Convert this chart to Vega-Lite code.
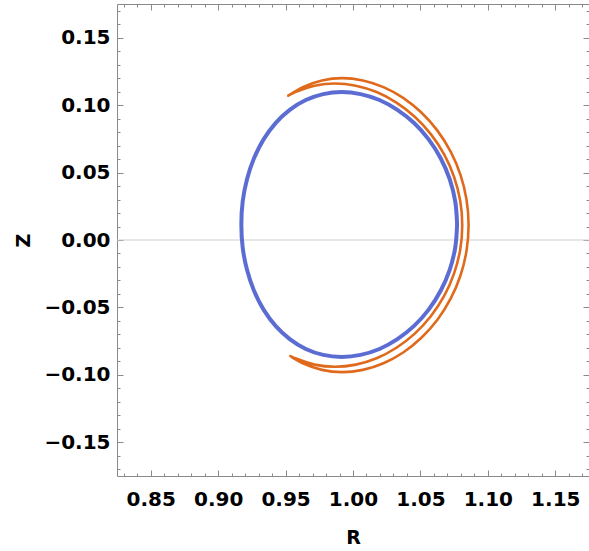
{
  "$schema": "https://vega.github.io/schema/vega-lite/v6.json",
  "width": 472,
  "height": 472,
  "autosize": {"type": "none"},
  "padding": {"left": 117, "top": 4, "right": 0, "bottom": 75},
  "background": "white",
  "config": {
    "view": {"stroke": "#8a8a8a", "strokeWidth": 1},
    "axis": {
      "labelFont": "DejaVu Sans",
      "labelFontWeight": "bold",
      "labelFontSize": 20,
      "labelColor": "black",
      "titleFont": "DejaVu Sans",
      "titleFontWeight": "bold",
      "titleFontSize": 19,
      "titleColor": "black",
      "domain": false,
      "grid": false,
      "tickColor": "#8a8a8a",
      "tickWidth": 1
    }
  },
  "datasets": {
    "zero": [{"R": 0.825, "Z": 0}, {"R": 1.175, "Z": 0}],
    "blue": [
      {"o": 0, "R": 1.0772, "Z": 0.0115}, {"o": 1, "R": 1.0758, "Z": 0.0286}, {"o": 2, "R": 1.0717, "Z": 0.0451},
      {"o": 3, "R": 1.0650, "Z": 0.0606}, {"o": 4, "R": 1.0561, "Z": 0.0746}, {"o": 5, "R": 1.0453, "Z": 0.0867},
      {"o": 6, "R": 1.0329, "Z": 0.0965}, {"o": 7, "R": 1.0196, "Z": 0.1038}, {"o": 8, "R": 1.0056, "Z": 0.1082},
      {"o": 9, "R": 0.9916, "Z": 0.1097}, {"o": 10, "R": 0.9779, "Z": 0.1082}, {"o": 11, "R": 0.9650, "Z": 0.1038},
      {"o": 12, "R": 0.9531, "Z": 0.0965}, {"o": 13, "R": 0.9426, "Z": 0.0867}, {"o": 14, "R": 0.9337, "Z": 0.0746},
      {"o": 15, "R": 0.9266, "Z": 0.0606}, {"o": 16, "R": 0.9214, "Z": 0.0451}, {"o": 17, "R": 0.9182, "Z": 0.0286},
      {"o": 18, "R": 0.9172, "Z": 0.0115}, {"o": 19, "R": 0.9182, "Z": -0.0056}, {"o": 20, "R": 0.9214, "Z": -0.0221},
      {"o": 21, "R": 0.9266, "Z": -0.0376}, {"o": 22, "R": 0.9337, "Z": -0.0516}, {"o": 23, "R": 0.9426, "Z": -0.0637},
      {"o": 24, "R": 0.9531, "Z": -0.0735}, {"o": 25, "R": 0.9650, "Z": -0.0808}, {"o": 26, "R": 0.9779, "Z": -0.0852},
      {"o": 27, "R": 0.9916, "Z": -0.0867}, {"o": 28, "R": 1.0056, "Z": -0.0852}, {"o": 29, "R": 1.0196, "Z": -0.0808},
      {"o": 30, "R": 1.0329, "Z": -0.0735}, {"o": 31, "R": 1.0453, "Z": -0.0637}, {"o": 32, "R": 1.0561, "Z": -0.0516},
      {"o": 33, "R": 1.0650, "Z": -0.0376}, {"o": 34, "R": 1.0717, "Z": -0.0221}, {"o": 35, "R": 1.0758, "Z": -0.0056},
      {"o": 36, "R": 1.0772, "Z": 0.0115}
    ],
    "orange": [
      {"o": 0, "R": 0.9520, "Z": 0.1070}, {"o": 1, "R": 0.9628, "Z": 0.1134}, {"o": 2, "R": 0.9770, "Z": 0.1183},
      {"o": 3, "R": 0.9920, "Z": 0.1200}, {"o": 4, "R": 1.0073, "Z": 0.1183}, {"o": 5, "R": 1.0226, "Z": 0.1134},
      {"o": 6, "R": 1.0372, "Z": 0.1054}, {"o": 7, "R": 1.0507, "Z": 0.0945}, {"o": 8, "R": 1.0626, "Z": 0.0811},
      {"o": 9, "R": 1.0724, "Z": 0.0655}, {"o": 10, "R": 1.0797, "Z": 0.0483}, {"o": 11, "R": 1.0842, "Z": 0.0299},
      {"o": 12, "R": 1.0857, "Z": 0.0110}, {"o": 13, "R": 1.0842, "Z": -0.0079}, {"o": 14, "R": 1.0797, "Z": -0.0263},
      {"o": 15, "R": 1.0724, "Z": -0.0435}, {"o": 16, "R": 1.0626, "Z": -0.0591}, {"o": 17, "R": 1.0507, "Z": -0.0725},
      {"o": 18, "R": 1.0372, "Z": -0.0834}, {"o": 19, "R": 1.0226, "Z": -0.0914}, {"o": 20, "R": 1.0073, "Z": -0.0963},
      {"o": 21, "R": 0.9920, "Z": -0.0980}, {"o": 22, "R": 0.9770, "Z": -0.0963}, {"o": 23, "R": 0.9628, "Z": -0.0914},
      {"o": 24, "R": 0.9534, "Z": -0.0860}, {"o": 25, "R": 0.9572, "Z": -0.0877}, {"o": 26, "R": 0.9715, "Z": -0.0924},
      {"o": 27, "R": 0.9866, "Z": -0.0940}, {"o": 28, "R": 1.0021, "Z": -0.0924}, {"o": 29, "R": 1.0175, "Z": -0.0877},
      {"o": 30, "R": 1.0322, "Z": -0.0799}, {"o": 31, "R": 1.0458, "Z": -0.0694}, {"o": 32, "R": 1.0577, "Z": -0.0565},
      {"o": 33, "R": 1.0676, "Z": -0.0415}, {"o": 34, "R": 1.0749, "Z": -0.0249}, {"o": 35, "R": 1.0795, "Z": -0.0072},
      {"o": 36, "R": 1.0810, "Z": 0.0110}, {"o": 37, "R": 1.0795, "Z": 0.0292}, {"o": 38, "R": 1.0749, "Z": 0.0469},
      {"o": 39, "R": 1.0676, "Z": 0.0635}, {"o": 40, "R": 1.0577, "Z": 0.0785}, {"o": 41, "R": 1.0458, "Z": 0.0914},
      {"o": 42, "R": 1.0322, "Z": 0.1019}, {"o": 43, "R": 1.0175, "Z": 0.1097}, {"o": 44, "R": 1.0021, "Z": 0.1144},
      {"o": 45, "R": 0.9866, "Z": 0.1160}, {"o": 46, "R": 0.9715, "Z": 0.1144}, {"o": 47, "R": 0.9572, "Z": 0.1097},
      {"o": 48, "R": 0.9520, "Z": 0.1070}
    ]
  },
  "resolve": {"axis": {"x": "independent", "y": "independent"}},
  "layer": [
    {
      "data": {"name": "zero"},
      "mark": {"type": "line", "color": "#cfcfcf", "strokeWidth": 1, "clip": true},
      "encoding": {
        "x": {"field": "R", "type": "quantitative", "scale": {"domain": [0.825, 1.175], "nice": false, "zero": false},
          "axis": {"orient": "bottom", "title": "R", "values": [0.85, 0.9, 0.95, 1.0, 1.05, 1.1, 1.15], "format": ".2f", "tickSize": -6, "labelPadding": 19, "titlePadding": 19, "labelFlush": false}},
        "y": {"field": "Z", "type": "quantitative", "scale": {"domain": [-0.175, 0.175], "nice": false, "zero": false},
          "axis": {"orient": "left", "title": "Z", "values": [-0.15, -0.1, -0.05, 0, 0.05, 0.1, 0.15], "format": ".2f", "tickSize": -6, "labelPadding": 13, "titlePadding": 10, "labelFlush": false}}
      }
    },
    {
      "data": {"name": "blue"},
      "mark": {"type": "line", "color": "#5b6dd2", "strokeWidth": 4, "interpolate": "catmull-rom", "clip": true},
      "encoding": {
        "order": {"field": "o", "type": "quantitative"},
        "x": {"field": "R", "type": "quantitative", "scale": {"domain": [0.825, 1.175], "nice": false, "zero": false},
          "axis": {"orient": "top", "title": null, "values": [0.85, 0.9, 0.95, 1.0, 1.05, 1.1, 1.15], "labels": false, "tickSize": -6}},
        "y": {"field": "Z", "type": "quantitative", "scale": {"domain": [-0.175, 0.175], "nice": false, "zero": false},
          "axis": {"orient": "right", "title": null, "values": [-0.15, -0.1, -0.05, 0, 0.05, 0.1, 0.15], "labels": false, "tickSize": -6}}
      }
    },
    {
      "data": {"name": "orange"},
      "mark": {"type": "line", "color": "#e06a1c", "strokeWidth": 2.6, "strokeCap": "round", "strokeJoin": "round", "interpolate": "catmull-rom", "clip": true},
      "encoding": {
        "order": {"field": "o", "type": "quantitative"},
        "x": {"field": "R", "type": "quantitative", "scale": {"domain": [0.825, 1.175], "nice": false, "zero": false},
          "axis": {"orient": "bottom", "title": null, "values": [0.83, 0.84, 0.86, 0.87, 0.88, 0.89, 0.91, 0.92, 0.93, 0.94, 0.96, 0.97, 0.98, 0.99, 1.01, 1.02, 1.03, 1.04, 1.06, 1.07, 1.08, 1.09, 1.11, 1.12, 1.13, 1.14, 1.16, 1.17], "labels": false, "tickSize": -3}},
        "y": {"field": "Z", "type": "quantitative", "scale": {"domain": [-0.175, 0.175], "nice": false, "zero": false},
          "axis": {"orient": "left", "title": null, "values": [-0.17, -0.16, -0.14, -0.13, -0.12, -0.11, -0.09, -0.08, -0.07, -0.06, -0.04, -0.03, -0.02, -0.01, 0.01, 0.02, 0.03, 0.04, 0.06, 0.07, 0.08, 0.09, 0.11, 0.12, 0.13, 0.14, 0.16, 0.17], "labels": false, "tickSize": -3}}
      }
    },
    {
      "data": {"name": "zero"},
      "mark": {"type": "point", "opacity": 0},
      "encoding": {
        "x": {"field": "R", "type": "quantitative", "scale": {"domain": [0.825, 1.175], "nice": false, "zero": false},
          "axis": {"orient": "top", "title": null, "values": [0.83, 0.84, 0.86, 0.87, 0.88, 0.89, 0.91, 0.92, 0.93, 0.94, 0.96, 0.97, 0.98, 0.99, 1.01, 1.02, 1.03, 1.04, 1.06, 1.07, 1.08, 1.09, 1.11, 1.12, 1.13, 1.14, 1.16, 1.17], "labels": false, "tickSize": -3}},
        "y": {"field": "Z", "type": "quantitative", "scale": {"domain": [-0.175, 0.175], "nice": false, "zero": false},
          "axis": {"orient": "right", "title": null, "values": [-0.17, -0.16, -0.14, -0.13, -0.12, -0.11, -0.09, -0.08, -0.07, -0.06, -0.04, -0.03, -0.02, -0.01, 0.01, 0.02, 0.03, 0.04, 0.06, 0.07, 0.08, 0.09, 0.11, 0.12, 0.13, 0.14, 0.16, 0.17], "labels": false, "tickSize": -3}}
      }
    }
  ]
}
